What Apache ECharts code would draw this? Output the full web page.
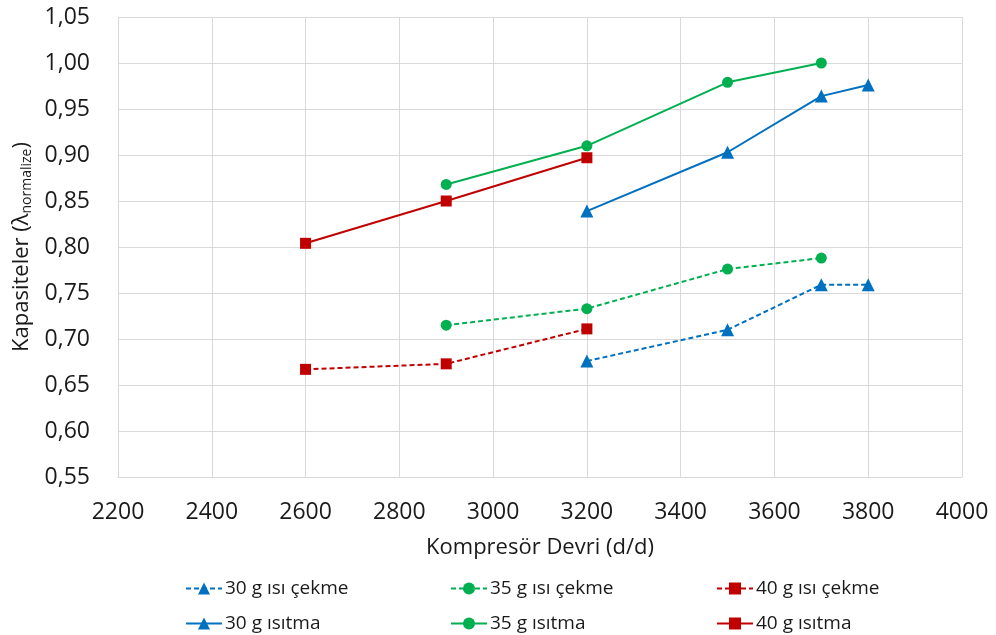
<!DOCTYPE html>
<html>
<head>
<meta charset="utf-8">
<script src="https://cdn.jsdelivr.net/npm/echarts@6/dist/echarts.min.js"></script>
<style>html,body{margin:0;padding:0;background:#fff}#c{width:996px;height:635px}</style>
</head>
<body>
<div id="c"></div>
<script>
// Data
const seriesNames = ['30 g ısı çekme', '35 g ısı çekme', '40 g ısı çekme', '30 g ısıtma', '35 g ısıtma', '40 g ısıtma'];
const x30 = [3200, 3500, 3700, 3800];
const x35 = [2900, 3200, 3500, 3700];
const x40 = [2600, 2900, 3200];
const y30Cekme = [0.676, 0.710, 0.759, 0.759];
const y35Cekme = [0.715, 0.733, 0.776, 0.788];
const y40Cekme = [0.667, 0.673, 0.711];
const y30Isitma = [0.839, 0.903, 0.964, 0.976];
const y35Isitma = [0.868, 0.910, 0.979, 1.000];
const y40Isitma = [0.804, 0.850, 0.897];
const xTitle = 'Kompresör Devri (d/d)';

const FONT = '"Open Sans", "Noto Sans", sans-serif';
const BLUE = '#0070C0', GREEN = '#00B050', RED = '#C00000';

function pairs(xs, ys) { return xs.map((x, i) => [x, ys[i]]); }

const defs = [
  {name: seriesNames[0], xs: x30, ys: y30Cekme, color: BLUE, symbol: 'triangle', size: 13, dash: 'dashed'},
  {name: seriesNames[1], xs: x35, ys: y35Cekme, color: GREEN, symbol: 'circle', size: 11, dash: 'dashed'},
  {name: seriesNames[2], xs: x40, ys: y40Cekme, color: RED, symbol: 'rect', size: 11, dash: 'dashed'},
  {name: seriesNames[3], xs: x30, ys: y30Isitma, color: BLUE, symbol: 'triangle', size: 13, dash: 'solid'},
  {name: seriesNames[4], xs: x35, ys: y35Isitma, color: GREEN, symbol: 'circle', size: 11, dash: 'solid'},
  {name: seriesNames[5], xs: x40, ys: y40Isitma, color: RED, symbol: 'rect', size: 11, dash: 'solid'}
];

const series = defs.map(d => ({
  name: d.name,
  type: 'line',
  data: pairs(d.xs, d.ys),
  symbol: d.symbol,
  symbolSize: d.size,
  showAllSymbol: true,
  itemStyle: {color: d.color},
  lineStyle: {color: d.color, width: 2, type: d.dash === 'dashed' ? [5, 3] : 'solid'},
  emphasis: {disabled: true},
  animation: false
}));

const legLefts = [185, 450, 716];
const legTops = [579, 614];
const legends = defs.map((d, i) => ({
  data: [d.name],
  left: legLefts[i % 3],
  top: legTops[Math.floor(i / 3)],
  orient: 'horizontal',
  itemWidth: 36,
  itemHeight: 15,
  itemGap: 0,
  padding: 0,
  selectedMode: false,
  textStyle: {fontFamily: FONT, fontSize: 19, color: '#1a1a1a', padding: [0, 0, 0, -2]}
}));

const chart = echarts.init(document.getElementById('c'), null, {renderer: 'canvas'});
chart.setOption({
  backgroundColor: '#fff',
  animation: false,
  grid: {left: 118, right: 34, top: 17, bottom: 158, containLabel: false},
  legend: legends,
  xAxis: {
    type: 'value', min: 2200, max: 4000, interval: 200,
    name: xTitle, nameLocation: 'middle', nameGap: 60,
    nameTextStyle: {fontFamily: FONT, fontSize: 22, color: '#1a1a1a'},
    axisLine: {show: true, lineStyle: {color: '#d9d9d9', width: 1}},
    axisTick: {show: false},
    axisLabel: {fontFamily: FONT, fontSize: 23, color: '#1a1a1a', margin: 24, formatter: v => String(v)},
    splitLine: {show: true, lineStyle: {color: '#d9d9d9', width: 1}}
  },
  yAxis: {
    type: 'value', min: 0.55, max: 1.05, interval: 0.05,
    name: '{a|Kapasiteler (λ}{b|normalize}{a|)}', nameLocation: 'middle', nameGap: 78,
    nameTextStyle: {
      fontFamily: FONT, fontSize: 22, color: '#1a1a1a',
      rich: {
        a: {fontFamily: FONT, fontSize: 22, color: '#1a1a1a'},
        b: {fontFamily: FONT, fontSize: 14, color: '#1a1a1a', padding: [10, 0, 0, 0]}
      }
    },
    axisLine: {show: true, lineStyle: {color: '#d9d9d9', width: 1}},
    axisTick: {show: false},
    axisLabel: {
      fontFamily: FONT, fontSize: 23, color: '#1a1a1a', margin: 28,
      formatter: v => v.toFixed(2).replace('.', ',')
    },
    splitLine: {show: true, lineStyle: {color: '#d9d9d9', width: 1}}
  },
  series: series
});
</script>
</body>
</html>
